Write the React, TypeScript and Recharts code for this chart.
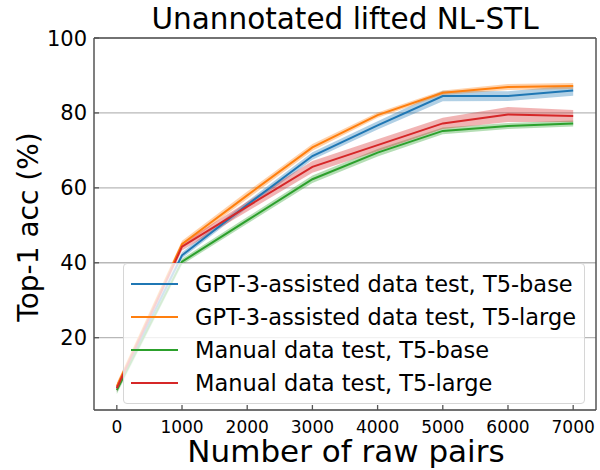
import React from "react";
import {
  ComposedChart,
  Line,
  Area,
  XAxis,
  YAxis,
  CartesianGrid,
  ReferenceLine,
  Legend,
} from "recharts";

// ---- data ----
const rawPairs = [0, 1000, 2000, 3000, 4000, 5000, 6000, 7000];
const xTicks = [0, 1000, 2000, 3000, 4000, 5000, 6000, 7000];
const yTicks = [20, 40, 60, 80, 100];

const gptBaseMean = [6.5, 42.0, 55.5, 68.5, 76.7, 84.5, 84.5, 86.0];
const gptBaseStd = [1.0, 0.8, 0.9, 1.0, 1.1, 1.4, 1.3, 1.4];
const gptLargeMean = [7.0, 45.0, 58.0, 70.8, 79.4, 85.4, 86.9, 87.2];
const gptLargeStd = [1.0, 0.9, 1.0, 0.9, 0.7, 0.6, 0.8, 0.8];
const manBaseMean = [6.0, 40.3, 51.3, 62.3, 69.4, 75.2, 76.5, 77.2];
const manBaseStd = [1.0, 0.8, 0.9, 1.0, 1.0, 0.9, 0.8, 0.8];
const manLargeMean = [6.5, 44.3, 55.0, 65.6, 71.4, 77.2, 79.6, 79.2];
const manLargeStd = [1.0, 1.0, 1.3, 1.6, 1.6, 1.5, 2.0, 1.6];

const seriesNames = [
  "GPT-3-assisted data test, T5-base",
  "GPT-3-assisted data test, T5-large",
  "Manual data test, T5-base",
  "Manual data test, T5-large",
];
const seriesKeys = ["gb", "gl", "mb", "ml"];
const seriesColors = ["#1f77b4", "#ff7f0e", "#2ca02c", "#d62728"];
const means = [gptBaseMean, gptLargeMean, manBaseMean, manLargeMean];
const stds = [gptBaseStd, gptLargeStd, manBaseStd, manLargeStd];

const data = rawPairs.map((x, i) => {
  const row: Record<string, any> = { x };
  seriesKeys.forEach((k, s) => {
    row[k] = means[s][i];
    row[k + "Band"] = [means[s][i] - stds[s][i], means[s][i] + stds[s][i]];
  });
  return row;
});

const FONT = "DejaVu Sans, sans-serif";
const SPINE = "#555555";
const X_MARGIN = 11;
const Y_MARGIN = 7;

const XTick = (props: any) => {
  const { x, y, payload } = props;
  const axisY = y - X_MARGIN;
  return (
    <g>
      <line x1={x} x2={x} y1={axisY} y2={axisY - 5} stroke={SPINE} strokeWidth={1.3} />
      <text x={x} y={y} dy="0.72em" textAnchor="middle" fontSize={17} fontFamily={FONT} fill="#000">
        {payload.value}
      </text>
    </g>
  );
};

const YTick = (props: any) => {
  const { x, y, payload } = props;
  const axisX = x + Y_MARGIN;
  return (
    <g>
      <line x1={axisX} x2={axisX + 5} y1={y} y2={y} stroke={SPINE} strokeWidth={1.3} />
      <text x={x} y={y} dy="0.36em" textAnchor="end" fontSize={21} fontFamily={FONT} fill="#000">
        {payload.value}
      </text>
    </g>
  );
};

const LegendBox = () => (
  <div
    style={{
      border: "1px solid #d6d6d6",
      borderRadius: 4,
      background: "rgba(255,255,255,0.8)",
      padding: "3px 8px 4px 7px",
      fontFamily: FONT,
      fontSize: 22.5,
      color: "#000",
      width: 462,
      boxSizing: "border-box",
    }}
  >
    {seriesNames.map((n, i) => (
      <div key={n} style={{ display: "flex", alignItems: "center", height: 33 }}>
        <svg width={47} height={4} style={{ marginRight: 17, flex: "none" }}>
          <line x1={0} x2={47} y1={2} y2={2} stroke={seriesColors[i]} strokeWidth={2} />
        </svg>
        <span style={{ whiteSpace: "nowrap" }}>{n}</span>
      </div>
    ))}
  </div>
);

export default function App() {
  return (
    <div style={{ position: "absolute", left: 0, top: 0, width: 600, height: 470, background: "#fff" }}>
      <ComposedChart
        width={600}
        height={470}
        data={data}
        margin={{ top: 38, right: 4, bottom: 30, left: 0 }}
      >
        <CartesianGrid vertical={false} stroke="#b8b8b8" strokeWidth={1.3} />
        <XAxis
          dataKey="x"
          type="number"
          domain={[-350, 7350]}
          ticks={xTicks}
          allowDataOverflow
          height={30}
          tickSize={0}
          tickMargin={X_MARGIN}
          tick={<XTick />}
          axisLine={{ stroke: SPINE, strokeWidth: 1.5 }}
          tickLine={false}
          interval={0}
        />
        <YAxis
          type="number"
          domain={[0.7, 100]}
          ticks={yTicks}
          allowDataOverflow
          width={94}
          tickSize={0}
          tickMargin={Y_MARGIN}
          tick={<YTick />}
          axisLine={{ stroke: SPINE, strokeWidth: 1.5 }}
          tickLine={false}
          interval={0}
        />
        {seriesKeys.map((k, s) => [
          <Area
            key={k + "a"}
            dataKey={k + "Band"}
            type="linear"
            stroke="none"
            fill={seriesColors[s]}
            fillOpacity={0.35}
            isAnimationActive={false}
            activeDot={false}
            legendType="none"
          />,
          <Line
            key={k + "l"}
            dataKey={k}
            type="linear"
            stroke={seriesColors[s]}
            strokeWidth={2}
            dot={false}
            activeDot={false}
            isAnimationActive={false}
          />,
        ])}
        <ReferenceLine y={100} stroke={SPINE} strokeWidth={1.5} />
        <ReferenceLine x={7350} stroke={SPINE} strokeWidth={1.5} />
        <Legend
          layout="vertical"
          align="center"
          verticalAlign="middle"
          content={<LegendBox />}
          wrapperStyle={{ left: 123, top: 263, width: 462 }}
        />
        <text x={345} y={29} textAnchor="middle" fontSize={29.5} fontFamily={FONT} fill="#000">
          Unannotated lifted NL-STL
        </text>
        <text x={346} y={462} textAnchor="middle" fontSize={31} fontFamily={FONT} fill="#000">
          Number of raw pairs
        </text>
        <text
          x={38}
          y={227}
          textAnchor="middle"
          fontSize={28}
          fontFamily={FONT}
          fill="#000"
          transform="rotate(-90 38 227)"
        >
          Top-1 acc (%)
        </text>
      </ComposedChart>
    </div>
  );
}
